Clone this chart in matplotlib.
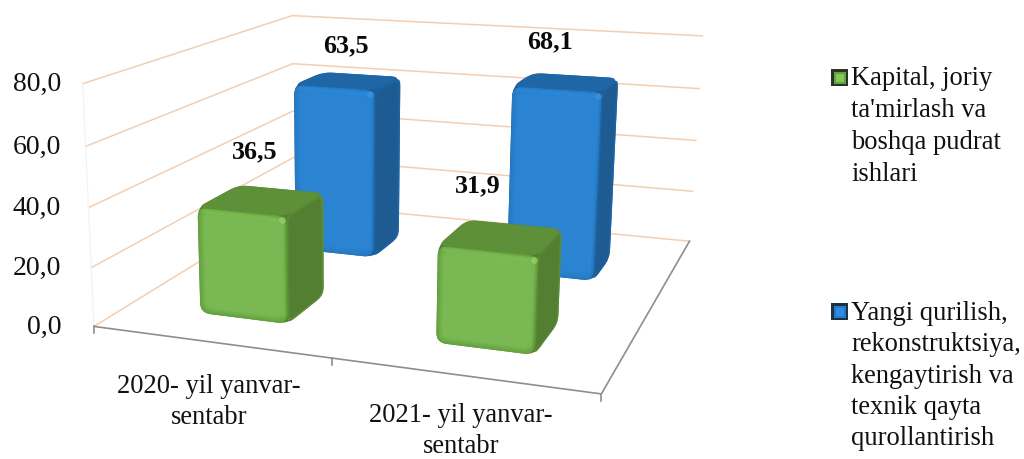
import numpy as np
import matplotlib
matplotlib.use("Agg")
import matplotlib.pyplot as plt
from matplotlib.path import Path
from matplotlib.patches import PathPatch, Rectangle

categories = ["2020- yil yanvar-\nsentabr", "2021- yil yanvar-\nsentabr"]
kapital = [36.5, 31.9]
yangi = [63.5, 68.1]
value_ticks = [0, 20, 40, 60, 80]
legend_kapital = "Kapital, joriy\nta'mirlash va\nboshqa pudrat\nishlari"
legend_yangi = "Yangi qurilish,\nrekonstruktsiya,\nkengaytirish va\ntexnik qayta\nqurollantirish"

plt.rcParams["font.family"] = ["Liberation Serif", "DejaVu Serif"]
fig = plt.figure(figsize=(10.24, 4.59), dpi=100)
ax = fig.add_axes([0, 0, 1, 1])
ax.set_xlim(0, 1024)
ax.set_ylim(459, 0)
ax.axis("off")

# Camera of the pseudo-3D chart: (category, depth, value) -> canvas
world = [(0, 0, 0), (0, 0, 80), (0, 2, 0), (0, 2, 80), (2, 0, 0), (2, 2, 0), (2, 2, 80)]
image = [(95, 327), (82, 83), (293, 203), (293, 16), (601, 394), (690, 241), (702, 36)]
A = []
b = []
for (X, Y, Z), (px, py) in zip(world, image):
    A.append([X, Y, Z, 1, 0, 0, 0, 0, -px * X, -px * Y, -px * Z])
    b.append(px)
    A.append([0, 0, 0, 0, X, Y, Z, 1, -py * X, -py * Y, -py * Z])
    b.append(py)
h = np.linalg.lstsq(np.array(A, float), np.array(b, float), rcond=None)[0]
P = np.append(h, 1.0).reshape(3, 4)


def proj(u, d, v):
    q = P @ np.array([u, d, v, 1.0])
    return q[:2] / q[2]


def rounded(pts, r):
    pts = [np.array(p, float) for p in pts]
    n = len(pts)
    verts, codes = [], []
    for i in range(n):
        p, a, c = pts[i], pts[i - 1], pts[(i + 1) % n]
        ra = min(r, np.linalg.norm(a - p) * 0.45)
        rc = min(r, np.linalg.norm(c - p) * 0.45)
        s = p + (a - p) / np.linalg.norm(a - p) * ra
        e = p + (c - p) / np.linalg.norm(c - p) * rc
        verts += [s, p, e]
        codes += [Path.MOVETO if i == 0 else Path.LINETO, Path.CURVE3, Path.CURVE3]
    verts.append(verts[0])
    codes.append(Path.CLOSEPOLY)
    return Path(verts, codes)


def inset(q, t):
    q = np.array(q, float)
    w = np.linalg.norm(q[1] - q[0])
    hh = np.linalg.norm(q[3] - q[0])
    a, c = t / w, t / hh
    st = [(a, c), (1 - a, c), (1 - a, 1 - c), (a, 1 - c)]
    return [(1 - s) * (1 - k) * q[0] + s * (1 - k) * q[1] + s * k * q[2] + (1 - s) * k * q[3] for s, k in st]


def mix(c1, c2, t):
    a, b_ = matplotlib.colors.to_rgb(c1), matplotlib.colors.to_rgb(c2)
    return tuple(x + (y - x) * t for x, y in zip(a, b_))


def bevel(q, r, edge, face, z, steps=5, w=5.0):
    for i in range(steps + 1):
        t = i / steps
        col = mix(edge, face, t)
        ax.add_patch(PathPatch(rounded(inset(q, w * t), max(r - w * t * 0.5, 2)), fc=col, ec="none", zorder=z + i * 0.01))


def bar(u0, u1, d0, d1, val, pal, z):
    f = [proj(u0, d0, val), proj(u1, d0, val), proj(u1, d0, 0), proj(u0, d0, 0)]
    t = [proj(u0, d1, val), proj(u1, d1, val), proj(u1, d0, val), proj(u0, d0, val)]
    s = [proj(u1, d0, val), proj(u1, d1, val), proj(u1, d1, 0), proj(u1, d0, 0)]
    hull = [t[0], t[1], s[2], s[3], f[3], f[0]]
    ax.add_patch(PathPatch(rounded(hull, 10), fc=pal["side"], ec="none", zorder=z))
    ax.add_patch(PathPatch(rounded(t, 8), fc=pal["top"], ec="none", zorder=z + 0.1))
    bevel(s, 7, pal["top"], pal["side"], z + 0.2, steps=3, w=3)
    bevel(f, 10, pal["rim"], pal["face"], z + 0.4, steps=6, w=6)
    a = f[0] + (f[1] - f[0]) * 0.06 + np.array([0, 3.0])
    c = f[1] + np.array([-4.0, 4.0])
    d = f[2] + np.array([-4.0, -9.0])
    ax.plot(*zip(a, c), color=pal["hi"], lw=3.0, solid_capstyle="round", alpha=0.45, zorder=z + 0.6)
    ax.plot(*zip(c, d), color=pal["hi"], lw=2.5, solid_capstyle="round", alpha=0.35, zorder=z + 0.6)
    ax.plot(*c, "o", ms=5, color=pal["spot"], mec="none", alpha=0.7, zorder=z + 0.7)


green = dict(face="#7AB853", rim="#64A23D", top="#5E8F39", side="#527F32", hi="#86C75C", spot="#93D468")
blue = dict(face="#2B84D2", rim="#2679C2", top="#1F66A6", side="#1D5B92", hi="#2E8FE2", spot="#3498EC")

grid_c = "#F3CFB2"
for v in value_ticks:
    ax.plot(*zip(proj(0, 0, v), proj(0, 2, v), proj(2, 2, v)), color=grid_c, lw=1.1, zorder=1)
    x, y = proj(0, 0, v)
    ax.text(61, y + 1, f"{v:.1f}".replace(".", ","), ha="right", va="center", fontsize=20, color="#111111", zorder=5)
ax.plot(*zip(proj(0, 0, 0), proj(0, 0, 80)), color="#F2F2F2", lw=0.8, zorder=1)

# floor axes
ax.plot(*zip(proj(0, 0, 0), proj(2, 0, 0), proj(2, 2, 0)), color="#8E8E8E", lw=1.2, zorder=1.5)
for u in range(3):
    x, y = proj(u, 0, 0)
    ax.plot([x, x], [y, y + 7], color="#8E8E8E", lw=1.2, zorder=1.5)

BW = 0.38
depth = [(0.29, 0.67), (1.25, 1.60)]
for i in range(2):
    u0 = i + (1 - BW) / 2 + 0.016
    bar(u0, u0 + BW, depth[1][0], depth[1][1], yangi[i], blue, 2 + i)
for i in range(2):
    u0 = i + (1 - BW) / 2 + (0.008 if i == 0 else 0.0)
    bar(u0, u0 + BW, depth[0][0], depth[0][1], kapital[i], green, 6 + i)

# data labels
lab = {"fontsize": 18.8, "fontweight": "bold", "ha": "center", "va": "center", "color": "#0a0a0a", "zorder": 10}
for (x, y), v in zip([(255, 152), (478, 186)], kapital):
    ax.text(x, y, f"{v:.1f}".replace(".", ","), **lab)
for (x, y), v in zip([(346, 46), (550, 42)], yangi):
    ax.text(x, y, f"{v:.1f}".replace(".", ","), **lab)

# category labels
for (x, y), c in zip([(209, 402), (461, 431)], categories):
    ax.text(x, y, c, ha="center", va="center", fontsize=19.1, linespacing=1.33, color="#111111", zorder=10)

# legend
for (x, y), fc, txt, ty, ls in [((831, 69), green, legend_kapital, 66, 1.36), ((831, 303), blue, legend_yangi, 301, 1.33)]:
    ax.add_patch(Rectangle((x, y), 17, 17, fc="#2a3326" if fc is green else "#1b3146", ec="none", zorder=5))
    ax.add_patch(Rectangle((x + 2.5, y + 2.5), 12, 12, fc=fc["rim"], ec="none", zorder=5.1))
    ax.add_patch(Rectangle((x + 4.5, y + 4.5), 8, 8, fc=fc["hi"], ec="none", zorder=5.2))
    ax.text(851, ty, txt, ha="left", va="top", fontsize=19.1, linespacing=ls, color="#111111", zorder=10)

fig.savefig("out.png", dpi=100)
